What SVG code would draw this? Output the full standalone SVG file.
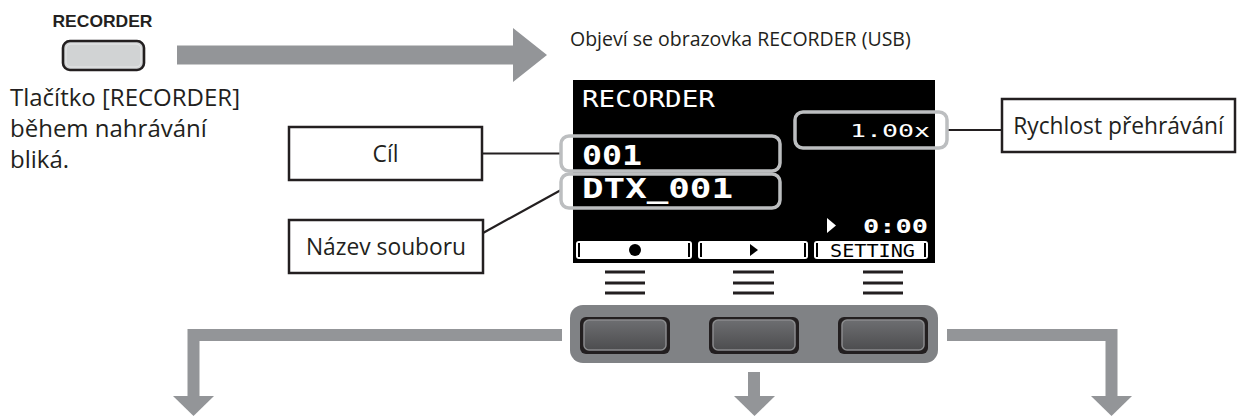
<svg xmlns="http://www.w3.org/2000/svg" width="1237" height="416" viewBox="0 0 1237 416">
<defs>
<style>
.lbl{font-family:"Open Sans","Liberation Sans",sans-serif;font-size:22.8px;fill:#231f20}
.note{font-size:24px}
.cap{font-size:19.5px}
.box{fill:#fff;stroke:#231f20;stroke-width:2.5}
.hl{fill:none;stroke:#bcbec0;stroke-width:3.5}
.lcd{font-family:"DejaVu Sans Mono","Liberation Mono",monospace;fill:#fff}
.arr{fill:#939598}
.shaft{fill:none;stroke:#939598;stroke-width:12}
.line{stroke:#231f20;stroke-width:2.2;fill:none}
.eq{stroke:#231f20;stroke-width:3.2}
.tab{fill:#fff}
</style>
<linearGradient id="btnG" x1="0" y1="0" x2="0" y2="1">
<stop offset="0" stop-color="#6d6e71"/>
<stop offset="1" stop-color="#4d4d4f"/>
</linearGradient>
</defs>
<rect width="1237" height="416" fill="#fff"/>

<g id="connectors">
<polygon class="arr" points="177,45.5 513,45.5 513,28 547,55 513,82 513,64.5 177,64.5"/>
<path class="shaft" d="M562,335 H193.5 V397"/>
<polygon class="arr" points="173,396 214,396 193.5,416"/>
<path class="shaft" d="M754,372 V397"/>
<polygon class="arr" points="734,396 775,396 754.5,416"/>
<path class="shaft" d="M947,335 H1111.5 V397"/>
<polygon class="arr" points="1091,396 1132,396 1111.5,416"/>
<line class="line" x1="482" y1="153.5" x2="561" y2="153.5"/>
<line class="line" x1="483" y1="233" x2="561" y2="190"/>
<line class="line" x1="947" y1="130" x2="1002" y2="130"/>
</g>

<g id="recorder-button">
<text x="102.5" y="27" text-anchor="middle" font-family="Liberation Sans,Arial,sans-serif" font-weight="bold" font-size="16.5" fill="#231f20" textLength="100" lengthAdjust="spacingAndGlyphs">RECORDER</text>
<rect x="63" y="41" width="81" height="29" rx="7" fill="#d1d3d4" stroke="#231f20" stroke-width="2.6"/>
<rect x="66" y="44" width="75" height="23" rx="5" fill="none" stroke="#e6e7e8" stroke-width="1"/>
</g>

<g id="recorder-note">
<text class="lbl note" x="10" y="106">Tlačítko [RECORDER]</text>
<text class="lbl note" x="10" y="137">během nahrávání</text>
<text class="lbl note" x="10" y="168">bliká.</text>
</g>

<g id="screen-caption">
<text class="lbl cap" x="570" y="46">Objeví se obrazovka RECORDER (USB)</text>
</g>

<g id="screen">
<rect x="573" y="80" width="362" height="183" fill="#000"/>
<text class="lcd" x="582" y="107" font-size="23" textLength="133" lengthAdjust="spacingAndGlyphs">RECORDER</text>
<text class="lcd" x="930" y="137" font-size="18" text-anchor="end" textLength="80" lengthAdjust="spacingAndGlyphs">1.00x</text>
<text class="lcd" x="582" y="165" font-size="27" font-weight="bold" textLength="60" lengthAdjust="spacingAndGlyphs">001</text>
<text class="lcd" x="582" y="198" font-size="27" font-weight="bold" textLength="151" lengthAdjust="spacingAndGlyphs">DTX_001</text>
<polygon points="827,218 836,225.5 827,233" fill="#fff"/>
<text class="lcd" x="928" y="233" font-size="19" font-weight="bold" text-anchor="end" textLength="65" lengthAdjust="spacingAndGlyphs">0:00</text>
<rect class="tab" x="576" y="241" width="116" height="18" rx="3"/>
<rect class="tab" x="698" y="241" width="110" height="18" rx="3"/>
<rect class="tab" x="814" y="241" width="114" height="18" rx="3"/>
<path d="M579,243 v14 M689,243 v14 M701,243 v14 M805,243 v14 M817,243 v14 M925,243 v14" stroke="#000" stroke-width="2"/>
<circle cx="635" cy="250" r="6" fill="#000"/>
<polygon points="750,244 758,250 750,256" fill="#000"/>
<text x="830" y="257" font-family="DejaVu Sans Mono,monospace" font-size="17" fill="#000" textLength="85" lengthAdjust="spacingAndGlyphs">SETTING</text>
<rect class="hl" x="795" y="112" width="152" height="36" rx="8"/>
<rect class="hl" x="561" y="136" width="219" height="35" rx="8"/>
<rect class="hl" x="561" y="174" width="219" height="34" rx="8"/>
</g>

<g id="softkey-marks">
<path class="eq" d="M605,272 H645 M605,283 H645 M605,293 H645 M733,272 H774 M733,283 H774 M733,293 H774 M863,272 H903 M863,283 H903 M863,293 H903"/>
</g>

<g id="button-panel">
<rect x="570" y="305" width="368" height="58" rx="13" fill="#808285"/>
<rect x="580" y="317" width="90" height="37" rx="6" fill="#231f20"/>
<rect x="584" y="320" width="82" height="30" rx="5" fill="url(#btnG)" stroke="#8a8b8d" stroke-width="1.5"/>
<rect x="709" y="317" width="90" height="37" rx="6" fill="#231f20"/>
<rect x="713" y="320" width="82" height="30" rx="5" fill="url(#btnG)" stroke="#8a8b8d" stroke-width="1.5"/>
<rect x="838" y="317" width="90" height="37" rx="6" fill="#231f20"/>
<rect x="842" y="320" width="82" height="30" rx="5" fill="url(#btnG)" stroke="#8a8b8d" stroke-width="1.5"/>
</g>

<g id="label-cil">
<rect class="box" x="289" y="127" width="193" height="53"/>
<text class="lbl" x="385.5" y="162" text-anchor="middle">Cíl</text>
</g>

<g id="label-nazev">
<rect class="box" x="289" y="220" width="194" height="53"/>
<text class="lbl" x="386" y="255" text-anchor="middle">Název souboru</text>
</g>

<g id="label-rychlost">
<rect class="box" x="1002" y="99" width="233" height="53"/>
<text class="lbl" x="1118.5" y="134" text-anchor="middle">Rychlost přehrávání</text>
</g>
</svg>
